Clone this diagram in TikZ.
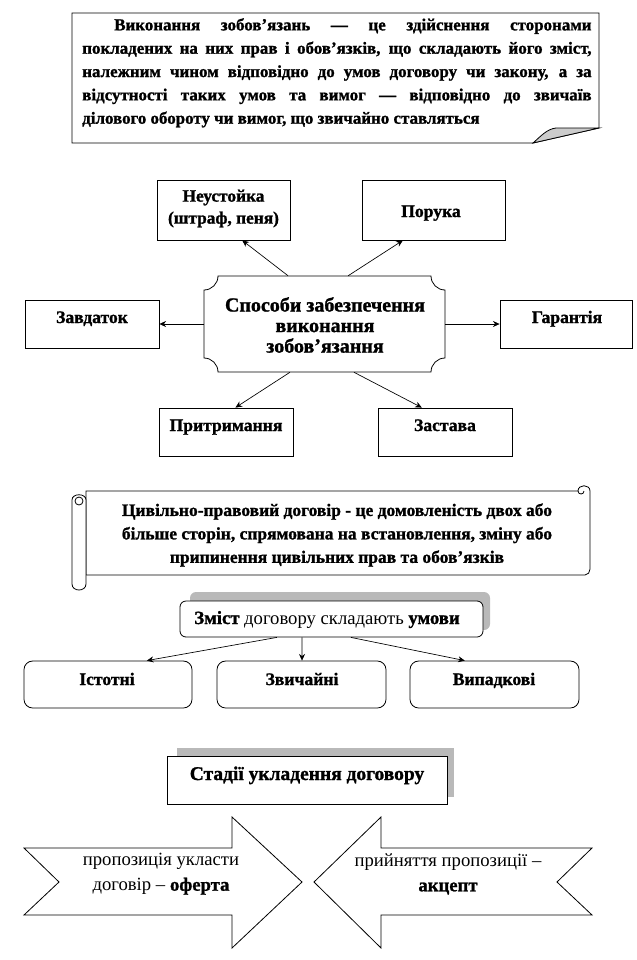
\documentclass[tikz,border=0pt]{standalone}
\usepackage{fontspec}
\setmainfont{Liberation Serif}[BoldFeatures={FakeBold=1.2}]
\usetikzlibrary{arrows.meta,calc}
\begin{document}
\begin{tikzpicture}[x=0.75pt,y=-0.75pt,
  ln/.style={draw=black,line width=0.6pt},
  bx/.style={draw=black,line width=0.6pt,rectangle,fill=white,inner sep=0pt},
  pxsize/.style 2 args={minimum width=#1*0.75pt,minimum height=#2*0.75pt},
  lbl/.style={inner sep=0pt,align=center,font=\fontsize{13}{16.5}\selectfont\bfseries},
  bl/.style={inner sep=0pt,anchor=base,font=\fontsize{13.2}{16}\selectfont\bfseries},
  arr/.style={line width=0.5pt,-{Stealth[length=5pt,width=4.5pt]}},
  shadow/.style={fill=gray!55,draw=none},
]
\path[use as bounding box] (0,0) rectangle (636,960);

% ---------- definition with folded corner ----------
\draw[ln,fill=white] (72,13) -- (599,13) -- (599,128) -- (533,143) -- (72,143) -- cycle;
\filldraw[ln,fill=gray!40] (533,143) .. controls (541,136) and (547,129) .. (556,128) -- (599,128) -- cycle;
\node[anchor=north west,inner sep=0pt,text width=382pt,align=justify,
      font=\fontsize{12.7}{17.5}\selectfont\bfseries] (def) at (82,18)
 {\hspace*{24pt}Виконання зобов'язань — це здійснення сторонами\linebreak
  покладених на них прав і обов'язків, що складають його зміст,\linebreak
  належним чином відповідно до умов договору чи закону, а за\linebreak
  відсутності таких умов та вимог — відповідно до звичаїв\linebreak
  ділового обороту чи вимог, що звичайно ставляться};

% ---------- ways of securing ----------
\node[bx,pxsize={133}{60}] (neu) at (223.5,210) {};
\node[lbl] (neuT) at (223.5,208.5) {Неустойка\\(штраф, пеня)};
\node[bx,pxsize={143}{60}] (por) at (433.5,210) {};
\node[bl] (porT) at (431,217) {Порука};
\node[bx,pxsize={134}{48}] (zav) at (92,324) {};
\node[bl] (zavT) at (92,323) {Завдаток};
\node[bx,pxsize={132}{48}] (gar) at (566,324) {};
\node[bl] (garT) at (567,323) {Гарантія};
\node[bx,pxsize={134}{48}] (pry) at (226,432) {};
\node[bl] (pryT) at (226,431) {Притримання};
\node[bx,pxsize={134}{48}] (zas) at (445,432) {};
\node[bl] (zasT) at (445,431) {Застава};

\draw[ln,fill=white] (218,276) -- (431,276) .. controls (431,283.7) and (437.3,290) .. (445,290)
  -- (445,358) .. controls (437.3,358) and (431,364.3) .. (431,372)
  -- (218,372) .. controls (218,364.3) and (211.7,358) .. (204,358)
  -- (204,290) .. controls (211.7,290) and (218,283.7) .. (218,276) -- cycle;
\node[inner sep=0pt,pxsize={241}{96}] (cen) at (324.5,324) {};
\node[inner sep=0pt,align=center,font=\fontsize{15}{15.4}\selectfont\bfseries] (cenT) at (325,325)
 {Способи забезпечення\\виконання\\зобов'язання};

\draw[arr] ($(cen.north west)!0.349!(cen.north east)$) -- ($(neu.south west)!0.64!(neu.south east)$);
\draw[arr] ($(cen.north west)!0.598!(cen.north east)$) -- ($(por.south west)!0.287!(por.south east)$);
\draw[arr] (cen.west) -- (zav.east);
\draw[arr] (cen.east) -- (gar.west);
\draw[arr] ($(cen.south west)!0.357!(cen.south east)$) -- ($(pry.north west)!0.57!(pry.north east)$);
\draw[arr] ($(cen.south west)!0.622!(cen.south east)$) -- ($(zas.north west)!0.328!(zas.north east)$);

% ---------- scroll ----------
\draw[ln,fill=white] (86,491) -- (578,491) .. controls (578,484) and (590,484) .. (590,491)
  -- (590,569) .. controls (590,572) and (588,575) .. (585,575) -- (86,575) -- cycle;
\draw[ln] (584,491) .. controls (584,495) and (578,495) .. (578,491);
\draw[ln,fill=white] (72,500) .. controls (72,493) and (86,493) .. (86,500)
  -- (86,584) .. controls (86,592) and (72,592) .. (72,584) -- cycle;
\draw[ln,fill=white] (79,501) circle[radius=4];
\node[inner sep=0pt,align=center,font=\fontsize{13.1}{17.6}\selectfont\bfseries] (sc) at (337,535)
 {Цивільно-правовий договір - це домовленість двох або\\
  більше сторін, спрямована на встановлення, зміну або\\
  припинення цивільних прав та обов'язків};

% ---------- terms ----------
\fill[shadow,rounded corners=4.5pt] (190,592) rectangle (490,630);
\node[bx,rounded corners=4.5pt,pxsize={303}{36}] (zm) at (331.5,619) {};
\node[inner sep=0pt,anchor=base,font=\fontsize{14}{17}\selectfont] (zmT) at (327,624)
 {\textbf{Зміст} договору складають \textbf{умови}};
\node[bx,rounded corners=6.5pt,pxsize={168}{47}] (ist) at (108,684.5) {};
\node[bl] (istT) at (107,685) {Істотні};
\node[bx,rounded corners=6.5pt,pxsize={169}{47}] (zvy) at (301.5,684.5) {};
\node[bl] (zvyT) at (302,685) {Звичайні};
\node[bx,rounded corners=6.5pt,pxsize={169}{47}] (vyp) at (494.5,684.5) {};
\node[bl] (vypT) at (494,685) {Випадкові};
\draw[arr] ($(zm.south west)!0.32!(zm.south east)$) -- ($(ist.north west)!0.73!(ist.north east)$);
\draw[arr] ($(zm.south west)!0.403!(zm.south east)$) -- ($(zvy.north west)!0.503!(zvy.north east)$);
\draw[arr] ($(zm.south west)!0.564!(zm.south east)$) -- ($(vyp.north west)!0.325!(vyp.north east)$);

% ---------- stages ----------
\fill[shadow] (177,748) rectangle (454,797);
\node[bx,pxsize={280}{48}] (st) at (307,780) {};
\node[inner sep=0pt,anchor=base,font=\fontsize{14.6}{17}\selectfont\bfseries] (stT) at (307,780) {Стадії укладення договору};

\draw[ln,fill=white] (24,848) -- (232,848) -- (232,817) -- (302,882) -- (232,948) -- (232,915)
  -- (24,915) -- (59,882) -- cycle;
\draw[ln,fill=white] (314,882) -- (381,817) -- (381,848) -- (592,848) -- (557,882) -- (592,915)
  -- (381,915) -- (381,948) -- cycle;
\node[inner sep=0pt,align=center,font=\fontsize{14}{18.75}\selectfont] (of) at (161,874)
 {пропозиція укласти\\договір – \textbf{оферта}};
\node[inner sep=0pt,align=center,font=\fontsize{14}{18.75}\selectfont] (ak) at (448,874)
 {прийняття пропозиції –\\\textbf{акцепт}};
\end{tikzpicture}
\end{document}
